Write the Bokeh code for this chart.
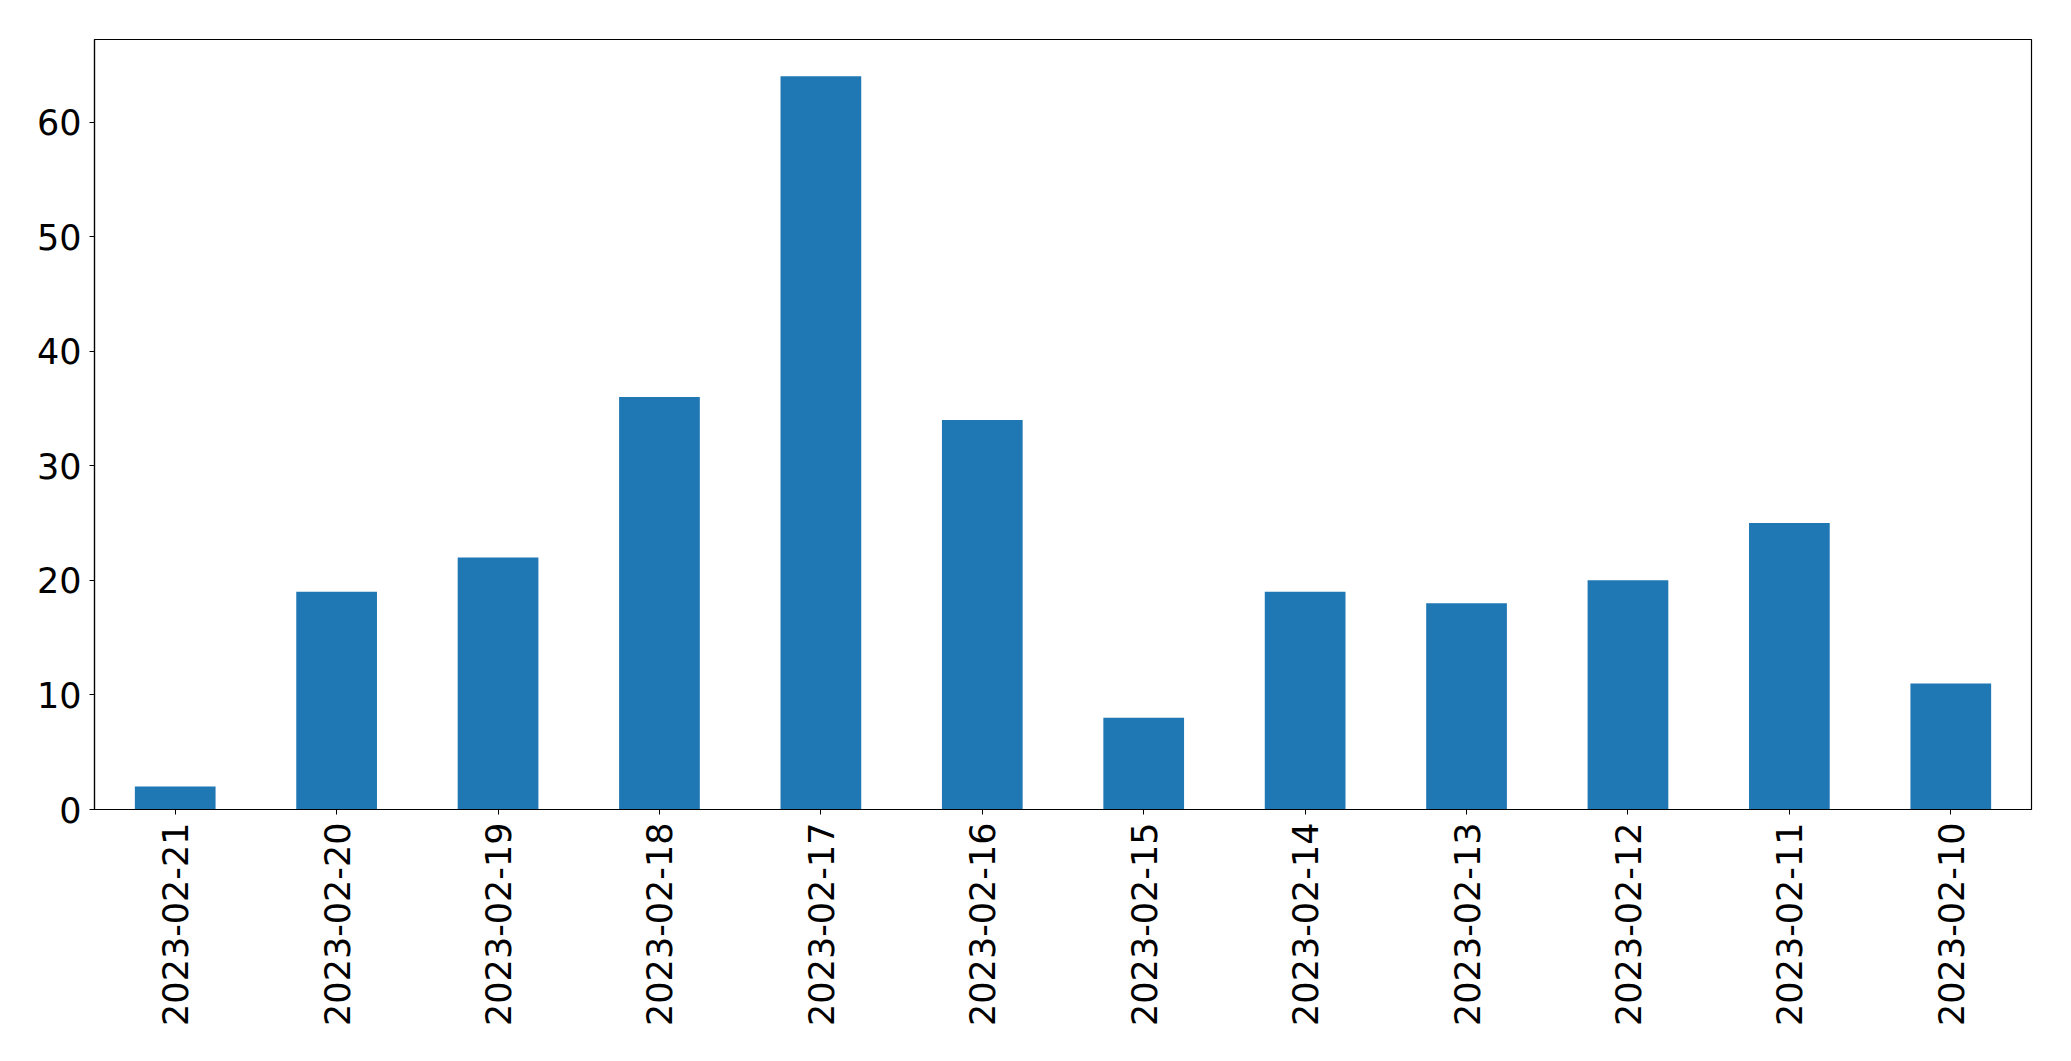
import math
from bokeh.plotting import figure
from bokeh.models import ColumnDataSource, FactorRange, Range1d, FixedTicker
from bokeh.embed import file_html
from bokeh.resources import INLINE

dates = ["2023-02-21", "2023-02-20", "2023-02-19", "2023-02-18", "2023-02-17", "2023-02-16",
         "2023-02-15", "2023-02-14", "2023-02-13", "2023-02-12", "2023-02-11", "2023-02-10"]
counts = [2, 19, 22, 36, 64, 34, 8, 19, 18, 20, 25, 11]
y_ticks = [0, 10, 20, 30, 40, 50, 60]

source = ColumnDataSource(data=dict(dates=dates, counts=counts))

p = figure(width=2063, height=1040, output_backend="svg", toolbar_location=None,
           x_range=FactorRange(factors=dates, range_padding=0),
           y_range=Range1d(0, max(counts) * 1.05))
p.min_border_left = 94
p.min_border_top = 39
p.min_border_right = 32
p.min_border_bottom = 231

p.vbar(x="dates", top="counts", width=0.5, source=source, color="#1f77b4", line_color=None)

p.xgrid.visible = False
p.ygrid.visible = False
p.outline_line_color = "black"
p.outline_line_width = 1.2
p.outline_line_alpha = 1

p.yaxis.ticker = FixedTicker(ticks=y_ticks)
for ax in (p.xaxis, p.yaxis):
    ax.axis_line_color = "black"
    ax.axis_line_width = 1.2
    ax.major_tick_in = 0
    ax.major_tick_out = 5
    ax.major_tick_line_color = "black"
    ax.minor_tick_line_color = None
    ax.major_label_text_font = "DejaVu Sans"
    ax.major_label_text_font_size = "35px"
    ax.major_label_text_color = "black"
    ax.major_label_standoff = 8
p.xaxis.major_label_orientation = math.pi / 2
p.xaxis.group_text_font_size = "0px"

open("out.html", "w").write(file_html(p, INLINE))
